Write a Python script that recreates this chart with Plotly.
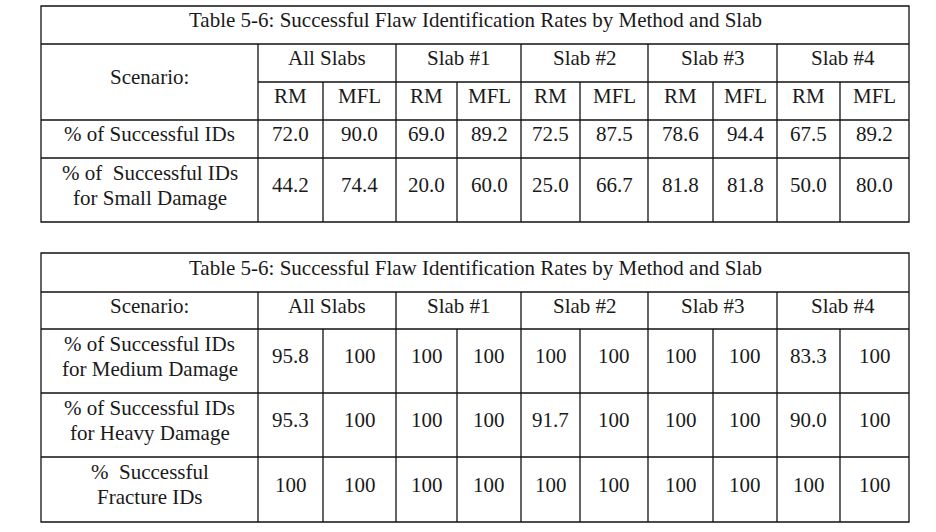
import plotly.graph_objects as go

# ---------------- data ----------------
title_text = "Table 5-6: Successful Flaw Identification Rates by Method and Slab"
groups = ["All Slabs", "Slab #1", "Slab #2", "Slab #3", "Slab #4"]
methods = ["RM", "MFL"]
scenario_label = "Scenario:"

t1_row_labels = ["% of Successful IDs", "% of\u00a0 Successful IDs\nfor Small Damage"]
t1_successful = [72.0, 90.0, 69.0, 89.2, 72.5, 87.5, 78.6, 94.4, 67.5, 89.2]
t1_small = [44.2, 74.4, 20.0, 60.0, 25.0, 66.7, 81.8, 81.8, 50.0, 80.0]

t2_row_labels = ["% of Successful IDs\nfor Medium Damage",
                 "% of Successful IDs\nfor Heavy Damage",
                 "%\u00a0 Successful\nFracture IDs"]
t2_medium = [95.8, 100, 100, 100, 100, 100, 100, 100, 83.3, 100]
t2_heavy = [95.3, 100, 100, 100, 91.7, 100, 100, 100, 90.0, 100]
t2_fracture = [100, 100, 100, 100, 100, 100, 100, 100, 100, 100]

# ---------------- layout geometry (pixels) ----------------
W, H = 936, 532
col_edges = [41, 258, 323, 396, 457, 521, 580, 648, 713, 777, 840, 909]
t1_rows = [6, 44, 82, 120, 158, 222]
t2_rows = [253, 292, 329, 393, 457, 522]
TEXT_SHIFT = -5
LINE_GAP = 25
FONT = dict(family="Liberation Serif", size=21, color="#1a1a1a")
LINE = dict(color="#111111", width=1.3)


def fmt(v):
    return "100" if v == 100 else f"{v:.1f}"


shapes = []
annotations = []


def hline(y, x0, x1):
    shapes.append(dict(type="line", xref="x", yref="y", x0=x0, x1=x1, y0=y, y1=y, line=LINE))


def vline(x, y0, y1):
    shapes.append(dict(type="line", xref="x", yref="y", x0=x, x1=x, y0=y0, y1=y1, line=LINE))


def text(x, y, s):
    lines = s.split("\n")
    n = len(lines)
    for i, ln in enumerate(lines):
        yy = y + TEXT_SHIFT + (i - (n - 1) / 2) * LINE_GAP
        annotations.append(dict(x=x, y=yy, xref="x", yref="y", text=ln, showarrow=False,
                                xanchor="center", yanchor="middle", font=FONT, align="center"))


L, R = col_edges[0], col_edges[-1]
group_edges = col_edges[1::2]  # 258, 396, 521, 648, 777, 909
div_edges = col_edges[2:-1:2]  # 323, 457, 580, 713, 840

# ---------- Table 1 ----------
r = t1_rows
shapes.append(dict(type="rect", xref="x", yref="y", x0=L, x1=R, y0=r[0], y1=r[-1], line=LINE))
hline(r[1], L, R)
hline(r[2], col_edges[1], R)
hline(r[3], L, R)
hline(r[4], L, R)
for x in group_edges[:-1]:
    vline(x, r[1], r[-1])
for x in div_edges:
    vline(x, r[2], r[-1])

text((L + R) / 2, (r[0] + r[1]) / 2, title_text)
text((L + col_edges[1]) / 2, (r[1] + r[3]) / 2, scenario_label)
for i, g in enumerate(groups):
    text((group_edges[i] + group_edges[i + 1]) / 2, (r[1] + r[2]) / 2, g)
    for j, m in enumerate(methods):
        c = 1 + 2 * i + j
        text((col_edges[c] + col_edges[c + 1]) / 2, (r[2] + r[3]) / 2, m)
for k, (lab, vals) in enumerate(zip(t1_row_labels, [t1_successful, t1_small])):
    yc = (r[3 + k] + r[4 + k]) / 2
    text((L + col_edges[1]) / 2, yc, lab)
    for c, v in enumerate(vals):
        text((col_edges[c + 1] + col_edges[c + 2]) / 2, yc, fmt(v))

# ---------- Table 2 ----------
r = t2_rows
shapes.append(dict(type="rect", xref="x", yref="y", x0=L, x1=R, y0=r[0], y1=r[-1], line=LINE))
for y in r[1:-1]:
    hline(y, L, R)
for x in group_edges[:-1]:
    vline(x, r[1], r[-1])
for x in div_edges:
    vline(x, r[2], r[-1])

text((L + R) / 2, (r[0] + r[1]) / 2, title_text)
text((L + col_edges[1]) / 2, (r[1] + r[2]) / 2, scenario_label)
for i, g in enumerate(groups):
    text((group_edges[i] + group_edges[i + 1]) / 2, (r[1] + r[2]) / 2, g)
for k, (lab, vals) in enumerate(zip(t2_row_labels, [t2_medium, t2_heavy, t2_fracture])):
    yc = (r[2 + k] + r[3 + k]) / 2
    text((L + col_edges[1]) / 2, yc, lab)
    for c, v in enumerate(vals):
        text((col_edges[c + 1] + col_edges[c + 2]) / 2, yc, fmt(v))

fig = go.Figure()
fig.update_layout(
    width=W, height=H,
    margin=dict(l=0, r=0, t=0, b=0),
    paper_bgcolor="white", plot_bgcolor="white",
    xaxis=dict(range=[0, W], visible=False, fixedrange=True),
    yaxis=dict(range=[H, 0], visible=False, fixedrange=True),
    shapes=shapes, annotations=annotations, showlegend=False,
)
fig.write_html("out.html", config={"displayModeBar": False},
               post_script="document.body.style.margin='0';")
